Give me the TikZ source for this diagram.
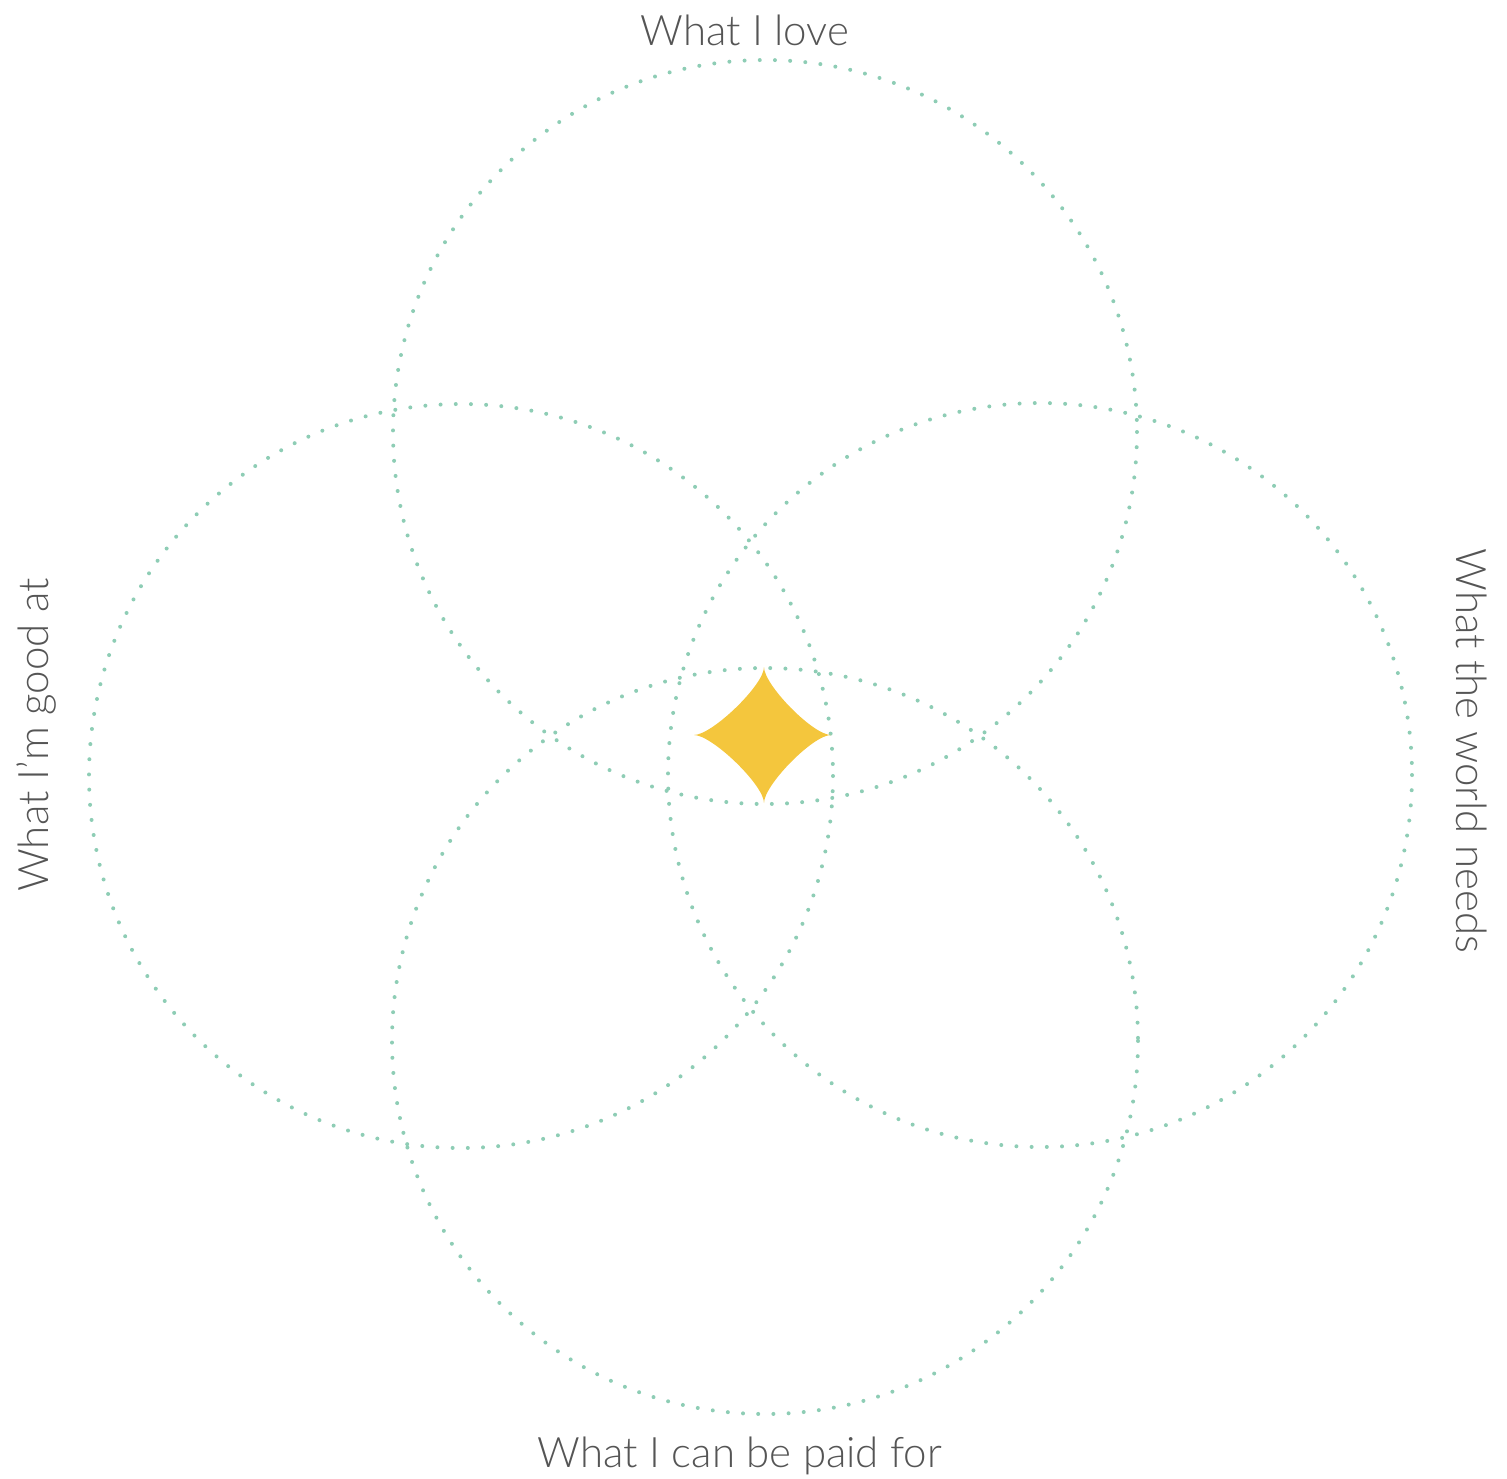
\documentclass[tikz,border=0pt]{standalone}
\usepackage{fontspec}
\setmainfont{Lato Light}
\begin{document}
\begin{tikzpicture}[x=1pt,y=-1pt,
  ring/.style={draw=ringcol, line width=4pt, line cap=round, dash pattern=on 0pt off 15.2pt},
  lbl/.style={text=labelcol, font=\fontsize{42}{46}\selectfont, inner sep=0pt, anchor=base}]
\definecolor{ringcol}{HTML}{8ECDB5}
\definecolor{starcol}{HTML}{F4C63D}
\definecolor{labelcol}{HTML}{555555}
\useasboundingbox (0,0) rectangle (1507,1478);
\coordinate (ctop) at (765,432);
\coordinate (cleft) at (461,776);
\coordinate (cright) at (1040,775);
\coordinate (cbot) at (765,1041);
\draw[ring] (ctop) circle[radius=372];
\draw[ring] (cleft) circle[radius=372];
\draw[ring] (cright) circle[radius=372];
\draw[ring] (cbot) circle[radius=373];
\fill[starcol] (764,667) .. controls (764,685) and (813,735) .. (831,735)
  .. controls (813,735) and (764,785) .. (764,803)
  .. controls (764,785) and (712,735) .. (694,735)
  .. controls (712,735) and (764,685) .. (764,667) -- cycle;
\node[lbl] (love) at (745,45) {What I love};
\node[lbl] (paid) at (740,1467) {What I can be paid for};
\node[lbl, rotate=90] (good) at (48,735) {What I'm good at};
\node[lbl, rotate=-90] (world) at (1456,751) {What the world needs};
\end{tikzpicture}
\end{document}
